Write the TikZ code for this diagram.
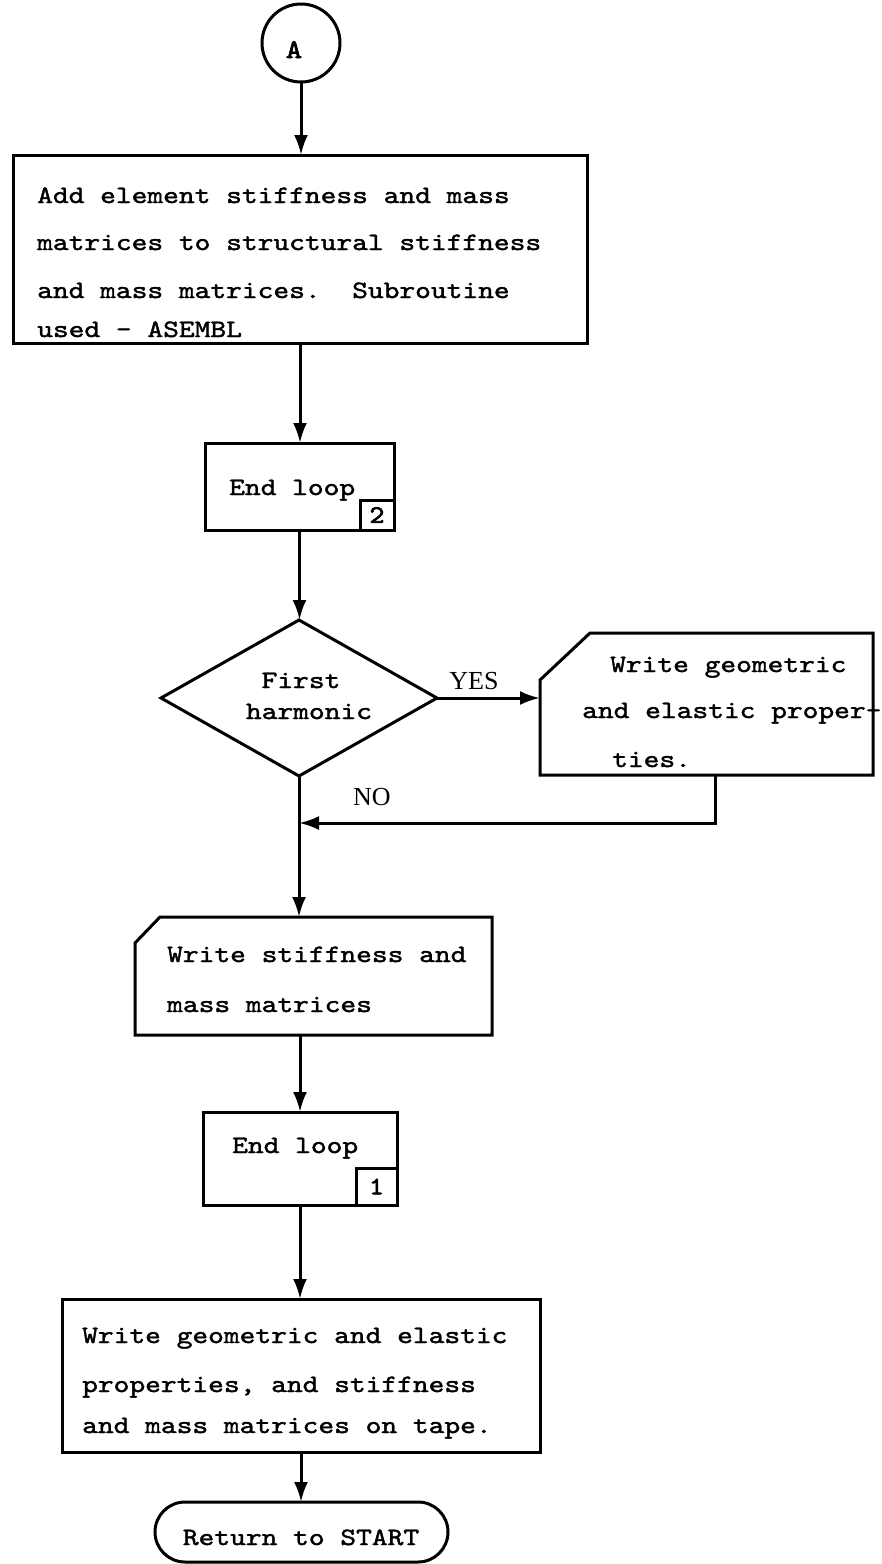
\documentclass[tikz,border=0pt]{standalone}
\usepackage{fontspec}
\usetikzlibrary{arrows.meta,shapes.geometric}
\newfontfamily\tw{lmmono10-regular}[Extension=.otf, FakeBold=1.6, FakeStretch=1.2]
\newfontfamily\twb{lmmono10-regular}[Extension=.otf, FakeBold=2.6, FakeStretch=1.15]
\newfontfamily\lbl{Liberation Serif}

\tikzset{
  ink/.style={draw=black, line width=3pt},
  box/.style={rectangle, ink, inner sep=0pt, outer sep=0pt},
  area/.style={rectangle, inner sep=0pt, outer sep=0pt},
  txt/.style={font=\tw\fontsize{25}{30}\selectfont\frenchspacing, inner sep=0pt, anchor=base west},
  ctxt/.style={txt, anchor=base},
  yn/.style={font=\lbl\fontsize{26}{28}\selectfont, inner sep=0pt, anchor=base},
  flow/.style={line width=3pt, -{Latex[length=20pt,width=14pt]}},
}

\begin{document}
\begin{tikzpicture}[x=1pt, y=-1pt, line join=miter]
\useasboundingbox (0,0) rectangle (882,1564);

% connector A
\node[circle, ink, inner sep=0pt, outer sep=0pt, minimum size=78pt] (A) at (301,43) {};
\node[font=\twb\fontsize{27}{30}\selectfont, inner sep=0pt, anchor=base] (Alabel) at (294,58) {A};

% assembly step
\node[box, minimum width=574pt, minimum height=188pt] (b1) at (300,249) {};
\node[txt] (b1l1) at (37,203) {Add element stiffness and mass};
\node[txt] (b1l2) at (37,250) {matrices to structural stiffness};
\node[txt] (b1l3) at (37,298) {and mass matrices.~~Subroutine};
\node[txt] (b1l4) at (37,337) {used - ASEMBL};

% end of inner loop
\node[box, minimum width=189pt, minimum height=87pt] (b2) at (299.5,486.5) {};
\node[txt] (b2l1) at (229,495) {End loop};
\node[box, minimum width=34pt, minimum height=30pt, font=\twb\fontsize{25}{30}\selectfont] (n2) at (377,515) {2};

% decision
\node[diamond, ink, inner sep=0pt, outer sep=0pt, minimum width=276pt, minimum height=156pt] (dm) at (299,698) {};
\node[ctxt] (dml1) at (301,688) {First};
\node[ctxt] (dml2) at (309,719) {harmonic};

% write properties (document symbol)
\node[area, minimum width=333pt, minimum height=142pt] (d1) at (706.5,704) {};
\draw[ink] ([xshift=50pt]d1.north west) -- (d1.north east) -- (d1.south east)
  -- (d1.south west) -- ([yshift=-47pt]d1.north west) -- cycle;
\node[txt] (d1l1) at (610,672) {Write geometric};
\node[txt] (d1l2) at (582,718) {and elastic proper-};
\node[txt] (d1l3) at (612,767) {ties.};

% write matrices (document symbol)
\node[area, minimum width=357pt, minimum height=118pt] (d2) at (313.5,976) {};
\draw[ink] ([xshift=25pt]d2.north west) -- (d2.north east) -- (d2.south east)
  -- (d2.south west) -- ([yshift=-26pt]d2.north west) -- cycle;
\node[txt] (d2l1) at (167,962) {Write stiffness and};
\node[txt] (d2l2) at (167,1012) {mass matrices};

% end of outer loop
\node[box, minimum width=194pt, minimum height=93pt] (b3) at (300,1158.5) {};
\node[txt] (b3l1) at (232,1153) {End loop};
\node[box, minimum width=41pt, minimum height=37pt, font=\twb\fontsize{25}{30}\selectfont] (n1) at (376.5,1186.5) {1};

% write to tape
\node[box, minimum width=478pt, minimum height=153pt] (fin) at (301,1375.5) {};
\node[txt] (fl1) at (82,1343) {Write geometric and elastic};
\node[txt] (fl2) at (82,1392) {properties, and stiffness};
\node[txt] (fl3) at (82,1433) {and mass matrices on tape.};

% terminal
\node[rectangle, ink, rounded corners=30pt, inner sep=0pt, outer sep=0pt,
      minimum width=293pt, minimum height=60pt] (term) at (301.5,1532) {};
\node[ctxt] (terml) at (301,1545) {Return to START};

% labels
\node[yn] (yes) at (474,689) {YES};
\node[yn] (no) at (372,805) {NO};

% connectors
\draw[flow] (A.south) -- (A.south |- b1.north);
\draw[flow] (b1.south) -- (b1.south |- b2.north);
\draw[flow] (b2.south) -- (b2.south |- dm.north);
\draw[flow] (dm.east) -- (dm.east -| d1.west);
\draw[flow] (dm.south) -- (dm.south |- d2.north);
\coordinate (ret) at (715,823);
\draw[flow] (ret |- d1.south) -- (ret) -- (ret -| dm.south);
\draw[flow] (b3.north |- d2.south) -- (b3.north);
\draw[flow] (b3.south) -- (b3.south |- fin.north);
\draw[flow] (fin.south) -- (fin.south |- term.north);
\end{tikzpicture}
\end{document}
